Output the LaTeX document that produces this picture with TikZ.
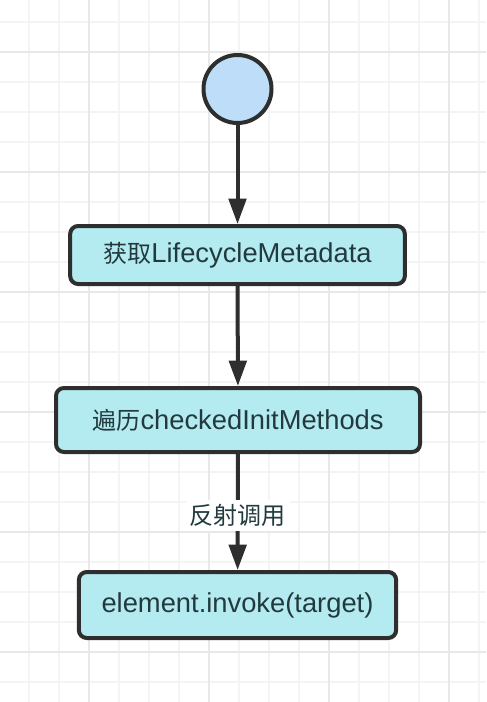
\documentclass[tikz,border=0pt]{standalone}
\usepackage{fontspec}
\setmainfont{Liberation Sans}
\newfontfamily\cjk{Noto Sans CJK SC}[Scale=0.88]
\usetikzlibrary{arrows.meta}
\definecolor{gridminor}{HTML}{F4F4F4}
\definecolor{gridmajor}{HTML}{E8E8E8}
\definecolor{stepfill}{HTML}{B4EBF1}
\definecolor{startfill}{HTML}{BEDDF8}
\definecolor{inkline}{HTML}{2E2E2E}
\definecolor{inktext}{HTML}{223A3D}
\begin{document}
\begin{tikzpicture}[x=0.75pt,y=-0.75pt,every node/.style={font=\fontsize{20.5}{24}\selectfont,text=inktext}]
    \tikzset{
      startdot/.style={circle,draw=inkline,fill=startfill,line width=3pt,
        minimum size=51pt,inner sep=0pt},
      stepbox/.style={draw=inkline,fill=stepfill,line width=3pt,
        rounded corners=6pt,inner sep=0pt},
      flow/.style={draw=inkline,line width=3pt,-{Triangle[length=19pt,width=13pt]}},
      gminor/.style={gridminor,line width=1.1pt},
      gmajor/.style={gridmajor,line width=1.3pt}
    }
    \useasboundingbox (0,0) rectangle (486,702);
    \fill[white] (0,0) rectangle (486,702);
    % background grid
    \foreach \gx in {-1,29,...,479} \draw[gminor] (\gx,0) -- (\gx,702);
    \foreach \gy in {22,52,...,682} \draw[gminor] (0,\gy) -- (486,\gy);
    \foreach \gx in {89,209,...,449} \draw[gmajor] (\gx,0) -- (\gx,702);
    \foreach \gy in {52,172,...,652} \draw[gmajor] (0,\gy) -- (486,\gy);

    \node[startdot] (start) at (237.5,89) {};
    \node[stepbox,minimum width=251pt,minimum height=43.5pt] (fetch) at (237.5,255)
      {{\cjk 获取}LifecycleMetadata};
    \node[stepbox,minimum width=273pt,minimum height=48pt] (loop) at (238,420)
      {{\cjk 遍历}checkedInitMethods};
    \node[stepbox,minimum width=238pt,minimum height=49.5pt] (invoke) at (237.5,605)
      {element.invoke(target)};

    \draw[flow] (start) -- (fetch);
    \draw[flow] (fetch) -- (loop);
    \draw[flow] (loop) -- node[pos=0.53,fill=white,inner sep=3pt] (calllabel)
      {\cjk 反射调用} (invoke);
\end{tikzpicture}
\end{document}
